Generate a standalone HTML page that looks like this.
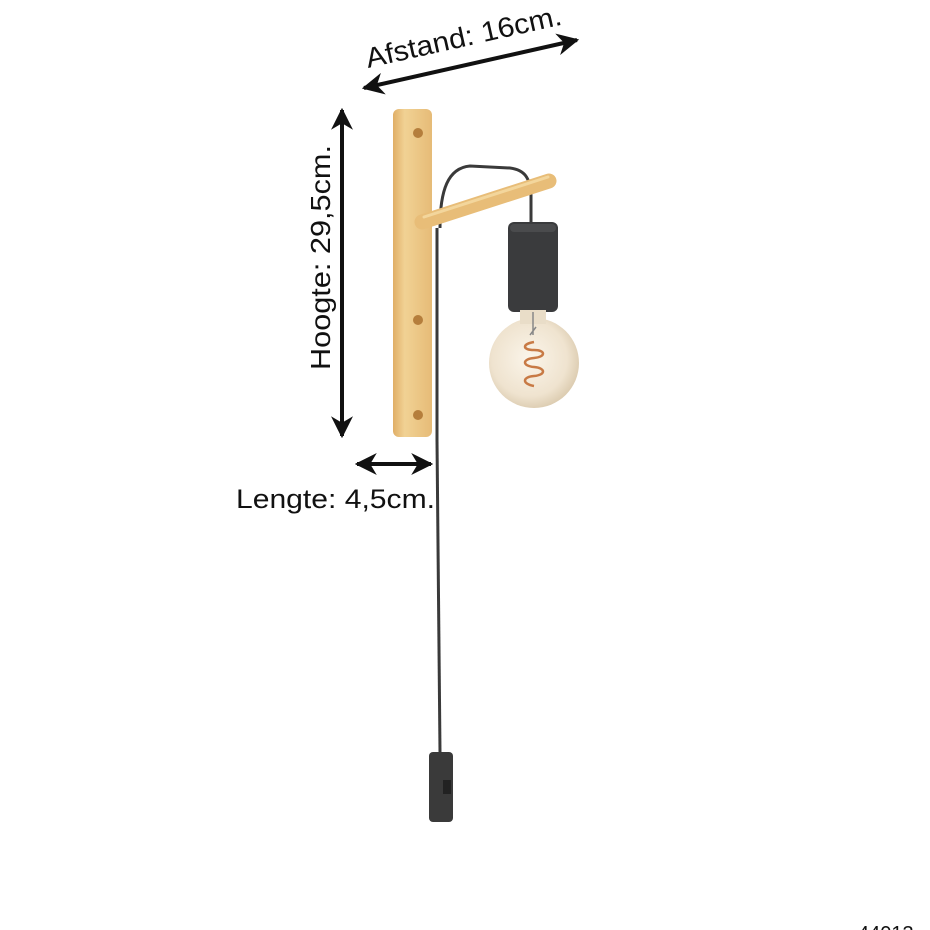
<!DOCTYPE html>
<html><head><meta charset="utf-8"><style>
html,body{margin:0;padding:0;background:#fff;}
svg{display:block}
text{font-family:"Liberation Sans",sans-serif;fill:#111}
</style></head><body>
<svg width="930" height="930" viewBox="0 0 930 930" xmlns="http://www.w3.org/2000/svg">
<defs>
<marker id="ah" viewBox="0 0 10 10" refX="9" refY="5" markerWidth="5.5" markerHeight="5.5" orient="auto-start-reverse"><path d="M0,0 L10,5 L0,10 L3,5 z" fill="#111"/></marker>
<linearGradient id="wood" x1="0" x2="1"><stop offset="0" stop-color="#e0ae66"/><stop offset="0.3" stop-color="#f1d294"/><stop offset="1" stop-color="#e6bb77"/></linearGradient>
<radialGradient id="bulb" cx="0.45" cy="0.45" r="0.6"><stop offset="0" stop-color="#fbf5ea"/><stop offset="0.7" stop-color="#efe3cf"/><stop offset="1" stop-color="#d8c7aa"/></radialGradient>
<linearGradient id="fade" x1="0" y1="0" x2="0" y2="1"><stop offset="0" stop-color="#333"/><stop offset="1" stop-color="#fff"/></linearGradient>
</defs>
<line x1="364" y1="88" x2="577" y2="40" stroke="#111" stroke-width="4" marker-start="url(#ah)" marker-end="url(#ah)"/>
<text x="0" y="0" font-size="28" textLength="200" lengthAdjust="spacingAndGlyphs" transform="translate(368,68) rotate(-12.6)">Afstand: 16cm.</text>
<line x1="342" y1="110" x2="342" y2="436" stroke="#111" stroke-width="4" marker-start="url(#ah)" marker-end="url(#ah)"/>
<text x="0" y="0" font-size="28" textLength="225" lengthAdjust="spacingAndGlyphs" transform="translate(330,370) rotate(-90)">Hoogte: 29,5cm.</text>
<line x1="357" y1="464" x2="431" y2="464" stroke="#111" stroke-width="4" marker-start="url(#ah)" marker-end="url(#ah)"/>
<text x="236" y="508" font-size="27" textLength="199" lengthAdjust="spacingAndGlyphs">Lengte: 4,5cm.</text>
<text x="858" y="940" font-size="20">44013</text>
<path d="M440,228 C440,190 448,168 470,166 L510,168 C525,170 530,178 531,195 L531,224" fill="none" stroke="#3a3a3a" stroke-width="3"/>
<path d="M437,440 L440,752" stroke="#3a3a3a" stroke-width="3"/>
<path d="M440,822 L440,880" stroke="url(#fade)" stroke-width="3"/>
<rect x="393" y="109" width="39" height="328" rx="6" fill="url(#wood)"/>
<circle cx="418" cy="133" r="5" fill="#b57e3c"/>
<circle cx="418" cy="320" r="5" fill="#b57e3c"/>
<circle cx="418" cy="415" r="5" fill="#b57e3c"/>
<line x1="437" y1="228" x2="437" y2="440" stroke="#3a3a3a" stroke-width="3"/>
<line x1="422" y1="222" x2="549" y2="181" stroke="#e8bd78" stroke-width="15" stroke-linecap="round"/>
<line x1="424" y1="217" x2="548" y2="177" stroke="#f3d69c" stroke-width="3" stroke-linecap="round"/>
<rect x="508" y="222" width="50" height="90" rx="6" fill="#3a3b3d"/>
<rect x="510" y="224" width="46" height="8" rx="4" fill="#4a4b4d"/>
<circle cx="534" cy="363" r="45" fill="url(#bulb)"/>
<rect x="520" y="310" width="26" height="14" fill="#e9ddc8"/>
<path d="M533,312 L533,335 M530,335 l6,-8" stroke="#888" stroke-width="1.5" fill="none"/>
<path d="M534,342 C522,344 522,350 534,350 C546,350 546,357 534,358 C522,359 522,366 534,367 C546,368 546,375 534,376 C522,377 522,384 534,386" stroke="#c87a45" stroke-width="2.5" fill="none"/>
<rect x="429" y="752" width="24" height="70" rx="4" fill="#3a3a3a"/>
<rect x="443" y="780" width="8" height="14" fill="#222"/>
</svg>
</body></html>
